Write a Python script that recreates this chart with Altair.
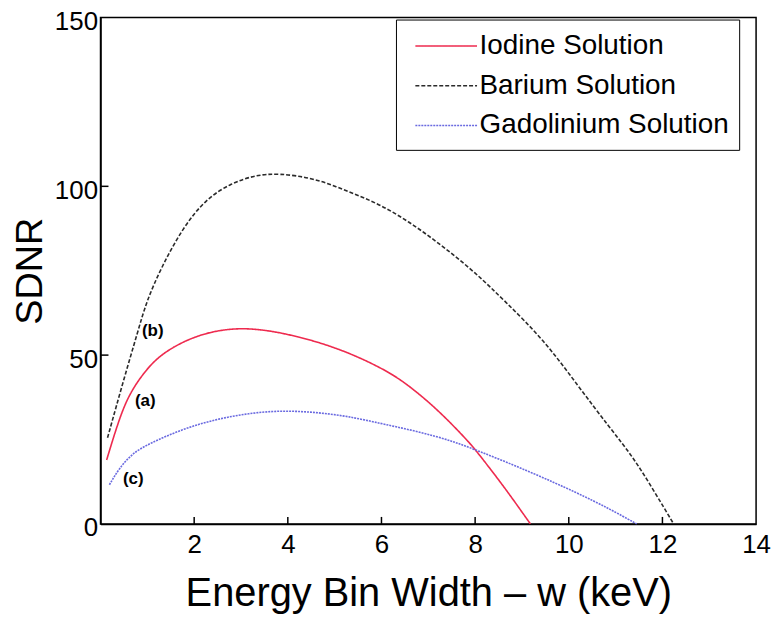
import altair as alt
import pandas as pd

series_names = ["Iodine Solution", "Barium Solution", "Gadolinium Solution"]
series_colors = ["#ee2a4e", "#2b2b2b", "#6a6ae0"]

iodine_x = [0.13, 0.35, 0.58, 0.9, 1.25, 1.82, 2.39, 2.95, 3.4, 3.87, 4.58, 5.29, 6.0, 6.5, 7.2, 7.84, 8.05, 8.62, 9.18]
iodine_y = [18.9, 29, 37.7, 44.4, 49.9, 54.5, 57.1, 58, 57.6, 56.6, 54.2, 50.8, 46.2, 42, 33.9, 24.7, 21.2, 11, 0]

barium_x = [0.15, 0.5, 0.79, 0.98, 1.3, 1.75, 2.25, 2.8, 3.3, 3.8, 4.58, 5.29, 6.0, 6.7, 7.35, 8.0, 8.62, 9.47, 10.18, 10.88, 11.38, 11.8, 12.24]
barium_y = [25.5, 43, 56.6, 65.9, 76, 87.6, 96.3, 101, 103.3, 103.9, 102.4, 98.5, 94.5, 88.5, 81.8, 74.5, 66.2, 54.5, 41.2, 28.4, 19.7, 10.2, 0]

gado_x = [0.19, 0.4, 0.68, 1.04, 1.75, 2.46, 3.17, 3.87, 4.58, 5.29, 6.0, 7.2, 8.05, 9.18, 10.18, 10.88, 11.45]
gado_y = [11.6, 16.5, 20.9, 23.8, 28.1, 31, 32.8, 33.6, 33.1, 31.9, 29.7, 26.1, 21.8, 15.4, 9.2, 4.4, 0]

x_tick_values = [2, 4, 6, 8, 10, 12, 14]
y_tick_values = [0, 50, 100, 150]
x_inner_ticks = [2, 4, 6, 8, 10, 12]
y_inner_ticks = [50, 100]

annot_text = ["(a)", "(b)", "(c)"]
annot_x = [0.956, 1.115, 0.70]
annot_y = [36.3, 57.0, 13.3]

rows = []
for name, xs, ys in [(series_names[0], iodine_x, iodine_y),
                     (series_names[1], barium_x, barium_y),
                     (series_names[2], gado_x, gado_y)]:
    for i, (a, b) in enumerate(zip(xs, ys)):
        rows.append({"series": name, "w": a, "sdnr": b, "order": i})
df = pd.DataFrame(rows)

W, H = 659, 509
FONT = "Liberation Sans"

xscale = alt.Scale(domain=[0, 14], nice=False, zero=False)
yscale = alt.Scale(domain=[0, 150], nice=False)

legend = alt.Legend(
    title=None, orient="none", legendX=297, legendY=2,
    symbolType="M-2,0L2,0", symbolSize=961, symbolStrokeWidth=1.5,
    labelFontSize=28, labelFont=FONT, labelColor="black", labelOffset=17,
    labelLimit=500,
    strokeColor="black", fillColor="white", padding=10, rowPadding=9,
    symbolOffset=24,
)

lines = alt.Chart(df).mark_line(strokeWidth=1.6, interpolate="basis").encode(
    x=alt.X("w:Q", scale=xscale,
            axis=alt.Axis(values=x_tick_values, title="Energy Bin Width \u2013 w (keV)",
                          ticks=False, grid=False, labelFontSize=26, labelPadding=8,
                          titleFontSize=40, titlePadding=16, labelFlush=False,
                          titleFontWeight="normal")),
    y=alt.Y("sdnr:Q", scale=yscale,
            axis=alt.Axis(values=y_tick_values, title="SDNR", ticks=False, grid=False,
                          labelFontSize=26, labelPadding=3, labelOffset=4,
                          titleFontSize=38, titlePadding=5, labelFlush=False,
                          titleFontWeight="normal")),
    color=alt.Color("series:N", scale=alt.Scale(domain=series_names, range=series_colors), legend=legend),
    strokeDash=alt.StrokeDash("series:N", scale=alt.Scale(domain=series_names, range=[[1, 0], [4, 2], [2, 1]]), legend=legend),
    order="order:Q",
)

xt = alt.Chart(pd.DataFrame({"v": x_inner_ticks})).mark_rule(color="black", strokeWidth=1.5).encode(
    x=alt.X("v:Q", scale=xscale), y=alt.value(H), y2=alt.value(H - 7))
yt = alt.Chart(pd.DataFrame({"v": y_inner_ticks})).mark_rule(color="black", strokeWidth=1.5).encode(
    y=alt.Y("v:Q", scale=yscale), x=alt.value(0), x2=alt.value(8))

ann = alt.Chart(pd.DataFrame({"t": annot_text, "x": annot_x, "y": annot_y})).mark_text(
    font=FONT, fontSize=17, fontWeight="bold", color="black").encode(
    x=alt.X("x:Q", scale=xscale), y=alt.Y("y:Q", scale=yscale), text="t:N")

chart = alt.layer(lines, xt, yt, ann).properties(
    width=W, height=H,
    background="white",
    autosize=alt.AutoSizeParams(type="none"),
    padding={"left": 93, "top": 8, "right": 16, "bottom": 92},
).configure_view(stroke="black", strokeWidth=1.5).configure_axis(
    domainColor="black", domainWidth=1.5, labelColor="black", titleColor="black",
    labelFont=FONT, titleFont=FONT, titleFontWeight="normal",
)

chart.save("out.html", embed_options={"renderer": "svg", "actions": False})
